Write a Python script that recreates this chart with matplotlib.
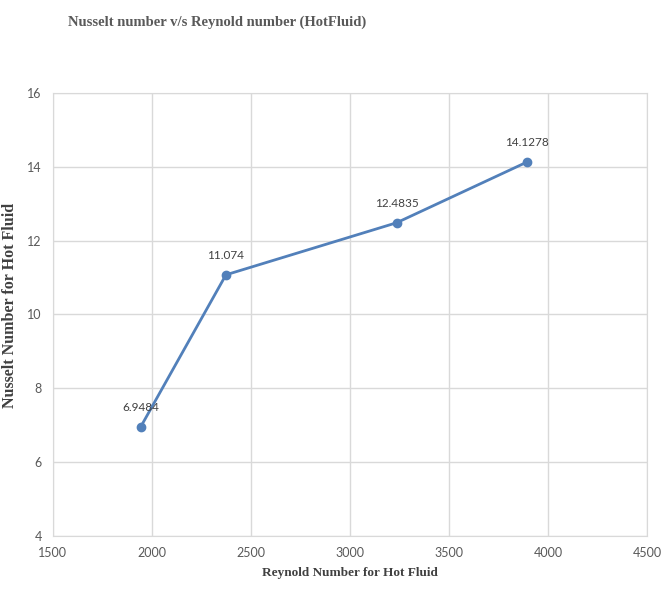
import matplotlib.pyplot as plt

# data
reynolds = [1942, 2373, 3234, 3892]
nusselt = [6.9484, 11.074, 12.4835, 14.1278]
point_labels = ['6.9484', '11.074', '12.4835', '14.1278']

x_ticks = [1500, 2000, 2500, 3000, 3500, 4000, 4500]
y_ticks = [4, 6, 8, 10, 12, 14, 16]

fig = plt.figure(figsize=(6.62, 5.90), dpi=100)
ax = fig.add_axes([0.080, 0.0915, 0.898, 0.751])

ax.plot(reynolds, nusselt, color='#5280ba', lw=2, marker='o', ms=6)
for x, y, t in zip(reynolds, nusselt, point_labels):
    ax.annotate(t, (x, y), xytext=(0, 10), textcoords='offset points',
                ha='center', va='bottom', fontsize=8.5, color='#404040', family='Lato')

ax.set_xlim(1500, 4500)
ax.set_ylim(4, 16)
ax.set_xticks(x_ticks)
ax.set_yticks(y_ticks)
ax.grid(True, color='#d9d9d9', lw=1)
ax.set_axisbelow(True)
for s in ax.spines.values():
    s.set_color('#d9d9d9')
ax.tick_params(length=0, labelsize=9, labelcolor='#595959', pad=8)
for lab in ax.get_xticklabels() + ax.get_yticklabels():
    lab.set_family('Lato')

ax.set_xlabel('Reynold Number for Hot Fluid', family='Liberation Serif',
              fontweight='bold', fontsize=9.5, color='#404040', labelpad=6)
ax.set_ylabel('Nusselt Number for Hot Fluid', family='Liberation Serif',
              fontweight='bold', fontsize=11.5, color='#404040')
ax.yaxis.set_label_coords(-0.058, 0.52)

fig.text(0.103, 0.962, 'Nusselt number v/s Reynold number (HotFluid)',
         family='Liberation Serif', fontweight='bold', fontsize=10.5,
         color='#595959', va='center', ha='left')

fig.savefig('out.png', dpi=100)
